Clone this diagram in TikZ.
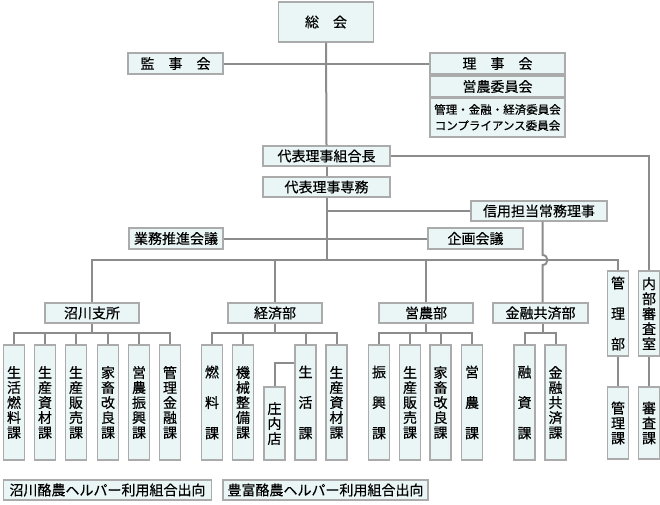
\documentclass[tikz,border=0pt]{standalone}
\usepackage{fontspec}
\setmainfont{Noto Sans CJK JP}[FakeBold=0.4]
\definecolor{boxfill}{HTML}{EAF5F5}
\definecolor{boxline}{HTML}{ABABAB}
\definecolor{conncol}{HTML}{8C8C8C}
\tikzset{
  orgbox/.style={draw=boxline, fill=boxfill, line width=1.3pt, inner sep=0pt,
    font=\fontsize{14}{15}\selectfont, align=center},
  hbox/.style={orgbox, minimum height=20pt},
  vbox/.style={orgbox, minimum width=21pt, minimum height=115pt},
  wide/.style={font=\fontsize{14}{30.5}\selectfont},
  conn/.style={draw=conncol, line width=2pt},
}
\begin{document}
\begin{tikzpicture}[x=1pt,y=-1pt]
\useasboundingbox (0,0) rectangle (660,504);
% top
\node[orgbox, minimum width=95pt, minimum height=40pt] (soukai) at (326,22) {総　会};
\node[hbox, minimum width=95pt, minimum height=21pt] (kanji) at (175.5,63.5) {監　事　会};
\node[hbox, minimum width=135pt, minimum height=21pt] (riji) at (497.5,63.5) {理　事　会};
\node[hbox, minimum width=135pt, minimum height=21pt] (einouiin) at (497.5,86.5) {営農委員会};
\node[orgbox, minimum width=135pt, minimum height=39pt, font=\fontsize{11.5}{16}\selectfont] (kanriiin) at (497.5,117.5) {管理・金融・経済委員会\\コンプライアンス委員会};
\node[hbox, minimum width=127pt] (kumiaichou) at (326.5,156) {代表理事組合長};
\node[hbox, minimum width=127pt] (senmu) at (326.5,187) {代表理事専務};
\node[hbox, minimum width=136pt] (shinyou) at (539,211) {信用担当常務理事};
\node[hbox, minimum width=94pt, minimum height=21pt] (gyoumu) at (176,238.5) {業務推進会議};
\node[hbox, minimum width=95pt, minimum height=21pt] (kikaku) at (475.5,238.5) {企画会議};
% divisions
\node[hbox, minimum width=94pt] (numakawa) at (92,313) {沼川支所};
\node[hbox, minimum width=94pt] (keizai) at (275,313) {経済部};
\node[hbox, minimum width=94pt] (einou) at (426,313) {営農部};
\node[hbox, minimum width=95pt] (kinyu) at (540.5,313) {金融共済部};
\node[orgbox, wide, minimum width=21pt, minimum height=85pt] (kanribu) at (618,313.5) {管\\理\\部};
\node[orgbox, minimum width=21pt, minimum height=85pt] (naibu) at (649,313.5) {内\\部\\審\\査\\室};
\node[orgbox, minimum width=21pt, minimum height=72pt] (kanrika) at (618,423) {管\\理\\課};
\node[orgbox, minimum width=21pt, minimum height=72pt] (shinsaka) at (649,423) {審\\査\\課};
% sections
\node[vbox] (n1) at (14,402.5) {生\\活\\燃\\料\\課};
\node[vbox] (n2) at (45,402.5) {生\\産\\資\\材\\課};
\node[vbox] (n3) at (76,402.5) {生\\産\\販\\売\\課};
\node[vbox] (n4) at (108,402.5) {家\\畜\\改\\良\\課};
\node[vbox] (n5) at (139,402.5) {営\\農\\振\\興\\課};
\node[vbox] (n6) at (170,402.5) {管\\理\\金\\融\\課};
\node[vbox, wide] (k1) at (212,402.5) {燃\\料\\課};
\node[vbox] (k2) at (243,402.5) {機\\械\\整\\備\\課};
\node[vbox, wide] (k3) at (305.5,402.5) {生\\活\\課};
\node[vbox] (k4) at (336.5,402.5) {生\\産\\資\\材\\課};
\node[orgbox, minimum width=21pt, minimum height=73pt] (shounai) at (274.5,423.5) {庄\\内\\店};
\node[vbox, wide] (e1) at (379,402.5) {振\\興\\課};
\node[vbox] (e2) at (410,402.5) {生\\産\\販\\売\\課};
\node[vbox] (e3) at (440.5,402.5) {家\\畜\\改\\良\\課};
\node[vbox, wide] (e4) at (472,402.5) {営\\農\\課};
\node[vbox, wide] (f1) at (524.5,402.5) {融\\資\\課};
\node[vbox] (f2) at (555.5,402.5) {金\\融\\共\\済\\課};
% footer
\node[hbox, minimum width=208pt] (ft1) at (107.5,490) {沼川酪農ヘルパー利用組合出向};
\node[hbox, minimum width=205pt] (ft2) at (325.5,490) {豊富酪農ヘルパー利用組合出向};
% connectors
\coordinate (hub) at (326.5,260);
\coordinate (hopA) at (542.5,255);
\coordinate (hopB) at (542.5,265);
\coordinate (nb) at (92,333);
\coordinate (kb) at (275,333);
\coordinate (eb) at (426,333);
\coordinate (fb) at (542.5,333);
\draw[conn] (kanji.east) -- (riji.west);
\draw[conn] (soukai.south) -- (kumiaichou.north);
\draw[conn] (kumiaichou.south) -- (senmu.north);
\draw[conn] (senmu.south) -- (hub);
\draw[conn] (senmu.south |- shinyou.west) -- (shinyou.west);
\draw[conn] (gyoumu.east) -- (kikaku.west);
\draw[conn] (kumiaichou.east) -| (naibu.north);
\draw[conn] (numakawa.north) |- (hub) -| (kanribu.north);
\draw[conn] (keizai.north) -- (keizai.north |- hub);
\draw[conn] (einou.north) -- (einou.north |- hub);
\draw[conn] ([xshift=3.5pt]shinyou.south) -- (hopA) .. controls (549,255) and (549,265) .. (hopB) -- (hopB |- kinyu.north);
\draw[conn] (kanribu.south) -- (kanrika.north);
\draw[conn] (naibu.south) -- (shinsaka.north);
\draw[conn] (numakawa.south) -- (nb);
\draw[conn] (n1.north) |- (nb) -| (n6.north);
\foreach \n in {n2,n3,n4,n5} \draw[conn] (\n.north) -- (\n.north |- nb);
\draw[conn] (keizai.south) -- (kb);
\draw[conn] (k1.north) |- (kb) -| (k4.north);
\foreach \n in {k2,k3} \draw[conn] (\n.north) -- (\n.north |- kb);
\draw[conn] ([yshift=39.5pt]k3.west) -| (shounai.north);
\draw[conn] (einou.south) -- (eb);
\draw[conn] (e1.north) |- (eb) -| (e4.north);
\foreach \n in {e2,e3} \draw[conn] (\n.north) -- (\n.north |- eb);
\draw[conn] (fb |- kinyu.south) -- (fb);
\draw[conn] (f1.north) |- (fb) -| (f2.north);
\end{tikzpicture}
\end{document}
